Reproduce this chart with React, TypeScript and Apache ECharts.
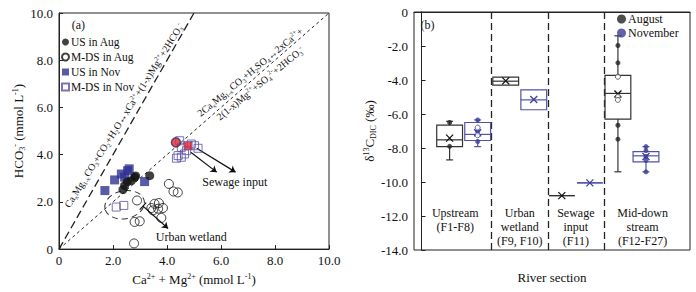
import React, { useEffect, useRef } from 'react';
import * as echarts from 'echarts';

const FONT = "'Liberation Serif', 'Times New Roman', serif";

// ---------- Panel (a) data ----------
const usAugX = [2.37, 2.43, 2.53, 2.68, 2.80, 2.84, 3.36];
const usAugY = [2.52, 2.69, 2.85, 2.90, 3.04, 3.10, 3.11];
const mdsAugX = [2.89, 2.80, 2.99, 2.78, 3.42, 3.54, 3.70, 3.85, 3.48, 3.67, 3.79, 4.07, 4.24, 4.40];
const mdsAugY = [2.06, 1.15, 1.18, 0.24, 1.74, 1.92, 1.95, 1.74, 1.64, 1.71, 1.32, 2.76, 2.44, 2.40];
const usNovX = [1.70, 2.06, 2.31, 2.43, 2.54, 2.60, 3.17];
const usNovY = [2.48, 2.93, 3.18, 3.05, 3.32, 3.40, 2.86];
const mdsNovX = [4.47, 4.53, 4.41, 4.53, 4.72, 5.02, 5.15, 4.90, 4.35, 4.65, 2.12, 2.40];
const mdsNovY = [4.59, 4.31, 3.96, 3.89, 4.17, 4.38, 4.27, 4.45, 3.85, 4.03, 1.78, 1.85];
const sewageAug = [4.33, 4.52];
const sewageNov = [4.78, 4.38];

// reaction lines (slope 2 and slope 1)
const reactionLine1 = [[0, 0], [5, 10]];
const reactionLine2 = [[0, 0], [10, 10]];

// ---------- Panel (b) data ----------
const seasons = ['August', 'November'];
const boxPos = [1, 2, 3, 4, 5, 6, 7, 8];
const boxSeason = [0, 1, 0, 1, 0, 1, 0, 1];
const boxMin = [-8.70, -7.92, -4.30, -5.75, -10.80, -10.05, -9.40, -9.40];
const boxQ1 = [-7.92, -7.56, -4.30, -5.75, -10.80, -10.05, -6.30, -8.82];
const boxMed = [-7.52, -7.20, -4.07, -5.17, -10.80, -10.05, -4.79, -8.46];
const boxQ3 = [-6.65, -6.50, -3.83, -4.58, -10.80, -10.05, -3.73, -8.21];
const boxMax = [-6.43, -6.35, -3.83, -4.58, -10.80, -10.05, -1.40, -7.92];
const boxMean = [-7.42, -7.10, -4.05, -5.15, -10.80, -10.05, -4.82, -8.50];

const augPtsX = [1, 1, 7, 7, 7, 7];
const augPtsY = [-6.50, -7.90, -1.97, -2.99, -6.66, -7.48];
const augOpenX = [7, 7, 7];
const augOpenY = [-3.81, -4.97, -5.17];
const novPtsX = [2, 2, 2, 8, 8, 8, 8, 8];
const novPtsY = [-6.35, -7.03, -7.62, -7.92, -8.15, -8.50, -8.74, -9.40];
const novOpenX = [2, 2];
const novOpenY = [-6.80, -7.25];

const sectionLabels = ['Upstream\n(F1-F8)', 'Urban\nwetland\n(F9, F10)', 'Sewage\ninput\n(F11)', 'Mid-down\nstream\n(F12-F27)'];
const sectionLabelX = [1.2, 3.5, 5.5, 7.88];
const separatorX = [2.5, 4.5, 6.5];

const BLACK = '#111111';
const NAVY = '#2f3192';
const PURPLE = '#5a50a5';
const AUG_LINE = '#333333';
const NOV_LINE = '#5252a8';
const NOV_DOT = '#3c3c96';

const zip = (xs: number[], ys: number[]) => xs.map((x, i) => [x, ys[i]]);

const supsub = {
  sup: { fontSize: 8, verticalAlign: 'top', lineHeight: 9, fontFamily: FONT, color: BLACK },
  sub: { fontSize: 8, verticalAlign: 'bottom', lineHeight: 9, fontFamily: FONT, color: BLACK },
};

export default function App() {
  const ref = useRef<HTMLDivElement>(null);
  useEffect(() => {
    document.body.style.margin = '0';
    const chart = echarts.init(ref.current!, null, { renderer: 'svg' });
    const tickFmt = (v: number) => (v === 0 ? '0' : v.toFixed(1));
    const option: any = {
      animation: false,
      backgroundColor: '#fff',
      textStyle: { fontFamily: FONT },
      grid: [
        { left: 59, top: 13, width: 270, height: 238, show: true, borderColor: '#222', borderWidth: 1 },
        { left: 414, top: 12, width: 276, height: 238, show: true, borderColor: '#222', borderWidth: 1 },
      ],
      xAxis: [
        {
          gridIndex: 0, type: 'value', min: 0, max: 10, interval: 2,
          axisLine: { lineStyle: { color: '#222' } },
          axisTick: { inside: true, length: 4, lineStyle: { color: '#222' } },
          splitLine: { show: false },
          axisLabel: { formatter: tickFmt, fontFamily: FONT, fontSize: 13, color: BLACK, margin: 5 },
          name: 'Ca{sup|2+} + Mg{sup|2+} (mmol L{sup|-1})', nameLocation: 'middle', nameGap: 20,
          nameTextStyle: { fontFamily: FONT, fontSize: 13, color: BLACK, lineHeight: 15, rich: supsub },
        },
        {
          gridIndex: 1, type: 'value', min: -0.27, max: 9.57,
          axisLine: { lineStyle: { color: '#222' } },
          axisTick: { show: false }, axisLabel: { show: false }, splitLine: { show: false },
          name: 'River section', nameLocation: 'middle', nameGap: 21,
          nameTextStyle: { fontFamily: FONT, fontSize: 13, color: BLACK },
        },
      ],
      yAxis: [
        {
          gridIndex: 0, type: 'value', min: 0, max: 10, interval: 2,
          axisLine: { lineStyle: { color: '#222' } },
          axisTick: { inside: true, length: 4, lineStyle: { color: '#222' } },
          splitLine: { show: false },
          axisLabel: { formatter: tickFmt, fontFamily: FONT, fontSize: 13, color: BLACK, margin: 6 },
          name: 'HCO{sub|3}{sup|-} (mmol L{sup|-1})', nameLocation: 'middle', nameGap: 32,
          nameTextStyle: { fontFamily: FONT, fontSize: 13, color: BLACK, lineHeight: 15, rich: supsub },
        },
        {
          gridIndex: 1, type: 'value', min: -14, max: 0, interval: 2,
          axisLine: { lineStyle: { color: '#222' } },
          axisTick: { inside: true, length: 4, lineStyle: { color: '#222' } },
          splitLine: { show: false },
          axisLabel: { formatter: tickFmt, fontFamily: FONT, fontSize: 13, color: BLACK, margin: 6 },
          name: 'δ{sup|13}C{sub|DIC} (‰)', nameLocation: 'middle', nameGap: 36,
          nameTextStyle: { fontFamily: FONT, fontSize: 13, color: BLACK, lineHeight: 15, rich: supsub },
        },
      ],
      legend: [
        {
          data: ['US in Aug', 'M-DS in Aug', 'US in Nov', 'M-DS in Nov'],
          orient: 'vertical', left: 61, top: 36, itemWidth: 7, itemHeight: 7, itemGap: 3, padding: 0,
          textStyle: { fontFamily: FONT, fontSize: 11.5, color: BLACK, padding: [0, 0, 0, -3] },
        },
        {
          data: seasons,
          orient: 'vertical', left: 617, top: 13, itemWidth: 9, itemHeight: 9, itemGap: 2, padding: 0,
          textStyle: { fontFamily: FONT, fontSize: 12, color: BLACK, padding: [0, 0, 0, -3] },
        },
      ],
      series: [
        {
          type: 'lines', coordinateSystem: 'cartesian2d', xAxisIndex: 0, yAxisIndex: 0, silent: true,
          symbol: 'none',
          lineStyle: { color: '#222', width: 1.3, type: [8, 4], opacity: 1 },
          data: [{ coords: reactionLine1 }],
        },
        {
          type: 'lines', coordinateSystem: 'cartesian2d', xAxisIndex: 0, yAxisIndex: 0, silent: true,
          symbol: 'none',
          lineStyle: { color: '#222', width: 1, type: [3, 3], opacity: 1 },
          data: [{ coords: reactionLine2 }],
        },
        {
          name: 'US in Nov', type: 'scatter', xAxisIndex: 0, yAxisIndex: 0,
          symbol: 'rect', symbolSize: 9, itemStyle: { color: NAVY },
          data: zip(usNovX, usNovY),
        },
        {
          name: 'M-DS in Nov', type: 'scatter', xAxisIndex: 0, yAxisIndex: 0,
          symbol: 'rect', symbolSize: 8, itemStyle: { color: 'rgba(255,255,255,0)', borderColor: PURPLE, borderWidth: 1 },
          data: zip(mdsNovX, mdsNovY),
        },
        {
          name: 'M-DS in Aug', type: 'scatter', xAxisIndex: 0, yAxisIndex: 0,
          symbol: 'circle', symbolSize: 9, itemStyle: { color: 'rgba(255,255,255,0)', borderColor: BLACK, borderWidth: 1 },
          data: zip(mdsAugX, mdsAugY),
        },
        {
          name: 'US in Aug', type: 'scatter', xAxisIndex: 0, yAxisIndex: 0,
          symbol: 'circle', symbolSize: 9, itemStyle: { color: BLACK },
          data: zip(usAugX, usAugY),
        },
        {
          name: 'sewage-aug', type: 'scatter', xAxisIndex: 0, yAxisIndex: 0,
          symbol: 'circle', symbolSize: 9, itemStyle: { color: '#e02a2a', borderColor: '#3a2a6a', borderWidth: 1.5 },
          data: [sewageAug],
        },
        {
          name: 'sewage-nov', type: 'scatter', xAxisIndex: 0, yAxisIndex: 0,
          symbol: 'rect', symbolSize: 8, itemStyle: { color: '#e8262a', borderColor: PURPLE, borderWidth: 1 },
          data: [sewageNov],
        },
        {
          type: 'lines', coordinateSystem: 'cartesian2d', xAxisIndex: 0, yAxisIndex: 0, silent: true,
          symbol: ['none', 'arrow'], symbolSize: 6,
          lineStyle: { color: BLACK, width: 1.2, type: 'solid', opacity: 1 },
          data: [
            { coords: [[4.88, 4.10], [5.84, 3.26]] },
            { coords: [[5.10, 4.27], [6.54, 3.26]] },
            { coords: [[3.11, 1.82], [4.04, 0.87]] },
          ],
        },
        {
          type: 'lines', coordinateSystem: 'cartesian2d', xAxisIndex: 0, yAxisIndex: 0, silent: true,
          symbol: 'none',
          lineStyle: { color: BLACK, width: 1.2, type: 'solid', opacity: 1 },
          data: [{ coords: [[2.99, 1.67], [3.23, 1.97]] }],
        },
        // panel (b)
        {
          type: 'lines', coordinateSystem: 'cartesian2d', xAxisIndex: 1, yAxisIndex: 1, silent: true,
          symbol: 'none',
          lineStyle: { color: '#222', width: 1.3, type: [7, 4], opacity: 1 },
          data: separatorX.map((x) => ({ coords: [[x, 0], [x, -14]] })),
        },
        {
          type: 'custom', xAxisIndex: 1, yAxisIndex: 1, silent: true,
          encode: { x: 0, y: [1, 2, 3, 4, 5] },
          data: boxPos.map((p, i) => [p, boxMin[i], boxQ1[i], boxMed[i], boxQ3[i], boxMax[i], boxMean[i], boxSeason[i]]),
          renderItem: (params: any, api: any) => {
            const x = api.value(0);
            const mn = api.value(1), q1 = api.value(2), md = api.value(3), q3 = api.value(4), mx = api.value(5), mean = api.value(6);
            const s = api.value(7);
            const color = s === 0 ? AUG_LINE : NOV_LINE;
            const cx = api.coord([x, md])[0];
            const yMd = api.coord([x, md])[1];
            const yQ1 = api.coord([x, q1])[1];
            const yQ3 = api.coord([x, q3])[1];
            const yMn = api.coord([x, mn])[1];
            const yMx = api.coord([x, mx])[1];
            const yMean = api.coord([x, mean])[1];
            const hw = api.size([0.92, 0])[0] / 2;
            const cap = 3.5;
            const st = { stroke: color, lineWidth: 1.2, fill: 'none' };
            const ch: any[] = [];
            if (mx > q3) {
              ch.push({ type: 'line', shape: { x1: cx, y1: yQ3, x2: cx, y2: yMx }, style: st });
              ch.push({ type: 'line', shape: { x1: cx - cap, y1: yMx, x2: cx + cap, y2: yMx }, style: st });
            }
            if (mn < q1) {
              ch.push({ type: 'line', shape: { x1: cx, y1: yQ1, x2: cx, y2: yMn }, style: st });
              ch.push({ type: 'line', shape: { x1: cx - cap, y1: yMn, x2: cx + cap, y2: yMn }, style: st });
            }
            ch.push({ type: 'rect', shape: { x: cx - hw, y: yQ3, width: 2 * hw, height: Math.max(yQ1 - yQ3, 0) }, style: st });
            ch.push({ type: 'line', shape: { x1: cx - hw, y1: yMd, x2: cx + hw, y2: yMd }, style: st });
            const m = 3.5;
            const mst = { stroke: s === 0 ? BLACK : '#4040a0', lineWidth: 1.3 };
            ch.push({ type: 'line', shape: { x1: cx - m, y1: yMean - m, x2: cx + m, y2: yMean + m }, style: mst });
            ch.push({ type: 'line', shape: { x1: cx - m, y1: yMean + m, x2: cx + m, y2: yMean - m }, style: mst });
            return { type: 'group', children: ch };
          },
        },
        {
          name: 'August', type: 'scatter', xAxisIndex: 1, yAxisIndex: 1,
          symbol: 'circle', symbolSize: 5, itemStyle: { color: '#222' },
          data: zip(augPtsX, augPtsY),
        },
        {
          name: 'aug-open', type: 'scatter', xAxisIndex: 1, yAxisIndex: 1,
          symbol: 'circle', symbolSize: 5, itemStyle: { color: '#fff', borderColor: '#444', borderWidth: 1 },
          data: zip(augOpenX, augOpenY),
        },
        {
          name: 'November', type: 'scatter', xAxisIndex: 1, yAxisIndex: 1,
          symbol: 'circle', symbolSize: 5, itemStyle: { color: NOV_DOT },
          data: zip(novPtsX, novPtsY),
        },
        {
          name: 'nov-open', type: 'scatter', xAxisIndex: 1, yAxisIndex: 1,
          symbol: 'circle', symbolSize: 5, itemStyle: { color: '#fff', borderColor: NOV_DOT, borderWidth: 1 },
          data: zip(novOpenX, novOpenY),
        },
      ],
    };
    chart.setOption(option);

    const pa = (x: number, y: number) => chart.convertToPixel({ gridIndex: 0 } as any, [x, y]) as number[];
    const pb = (x: number, y: number) => chart.convertToPixel({ gridIndex: 1 } as any, [x, y]) as number[];
    const angleOf = (line: number[][]) => {
      const p0 = pa(line[0][0], line[0][1]);
      const p1 = pa(line[1][0], line[1][1]);
      return Math.atan2(p0[1] - p1[1], p1[0] - p0[0]);
    };
    const a1 = angleOf(reactionLine1);
    const a2 = angleOf(reactionLine2);
    // point on a line, shifted perpendicular (positive = upper-left side)
    const offsetFrom = (p: number[], ang: number, d: number) => [p[0] - d * Math.sin(ang), p[1] - d * Math.cos(ang)];
    const rs = (size: number) => ({
      s: { fontSize: size * 0.62, verticalAlign: 'bottom', lineHeight: size * 0.7, fontFamily: FONT, fill: BLACK },
      p: { fontSize: size * 0.62, verticalAlign: 'top', lineHeight: size * 0.7, fontFamily: FONT, fill: BLACK },
    });
    const txt = (p: number[], text: string, size: number, rot = 0, align = 'center', vAlign = 'middle', rich: any = undefined, lh?: number) => ({
      type: 'text', x: p[0], y: p[1], rotation: rot, silent: true,
      style: { text, x: 0, y: 0, fontFamily: FONT, fontSize: size, fill: BLACK, align, verticalAlign: vAlign, rich, lineHeight: lh || size + 3 },
    });
    const ell = pa(2.43, 1.88);
    const l1c = offsetFrom(pa(2.72, 5.45), a1, 10);
    const l2p = pa(7.26, 7.26);
    const graphic: any[] = [
      txt(pa(0.47, 9.5), '(a)', 12, 0, 'left'),
      txt(pb(-0.04, -0.78), '(b)', 12, 0, 'left'),
      txt(l1c, 'Ca{s|x}Mg{s|1-x}CO{s|3}+CO{s|2}+H{s|2}O↔xCa{p|2+}+(1-x)Mg{p|2+}+2HCO{s|3}{p|-}', 10, a1 - 0.04, 'center', 'middle', rs(10), 12),
      txt(offsetFrom(l2p, a2, 7.5), '2Ca{s|x}Mg{s|1-x}CO{s|3}+H{s|2}SO{s|4}↔2xCa{p|2+}+', 10, a2 - 0.03, 'center', 'middle', rs(10), 12),
      txt(offsetFrom(l2p, a2, -7.5), '2(1-x)Mg{p|2+}+SO{s|4}{p|2-}+2HCO{s|3}{p|-}', 10, a2 - 0.03, 'center', 'middle', rs(10), 12),
      txt(pa(6.51, 2.86), 'Sewage input', 12),
      txt(pa(4.90, 0.50), 'Urban wetland', 12),
      {
        type: 'ellipse', x: ell[0], y: ell[1], rotation: 0.2, silent: true,
        shape: { cx: 0, cy: 0, rx: 20, ry: 14 },
        style: { stroke: '#333', fill: 'none', lineWidth: 1, lineDash: [6, 4] },
      },
      ...sectionLabels.map((t, i) => txt(pb(sectionLabelX[i], -11.4), t, 12, 0, 'center', 'top', undefined, 14)),
    ];
    chart.setOption({ graphic });
    return () => chart.dispose();
  }, []);
  return <div ref={ref} style={{ width: 696, height: 292 }} />;
}
